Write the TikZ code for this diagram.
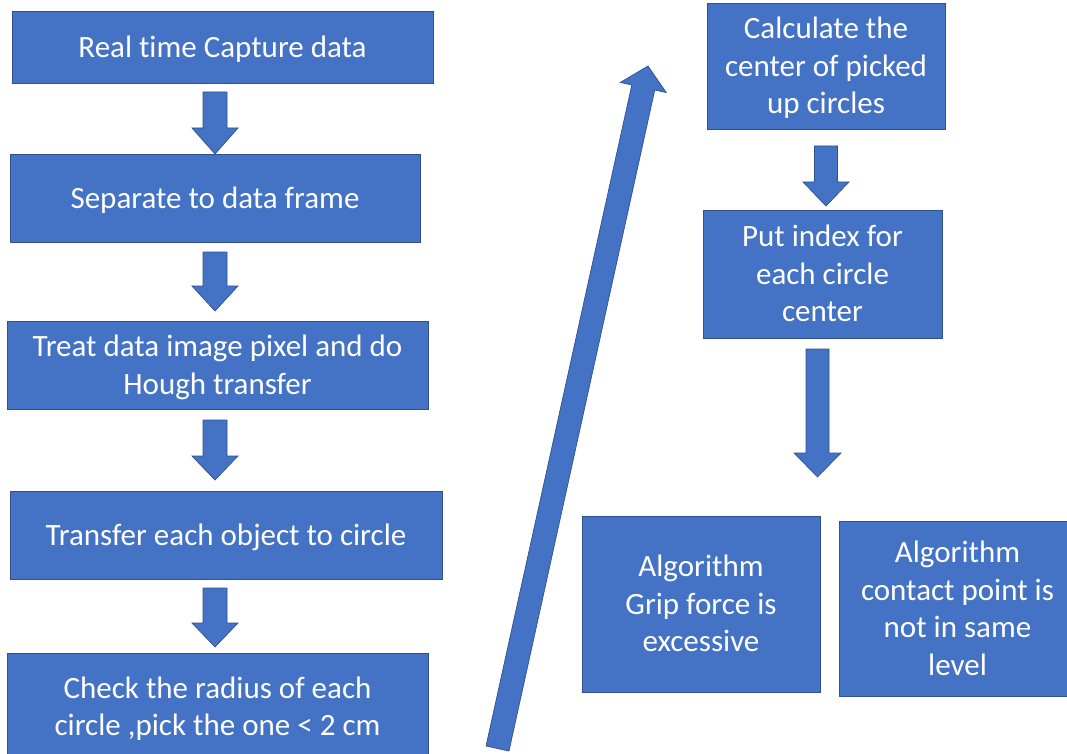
\documentclass[tikz,border=0pt]{standalone}
\usepackage{fontspec}
\setmainfont{Carlito}[Ligatures=NoCommon]
\usetikzlibrary{calc}
\definecolor{boxblue}{HTML}{4472C4}
\definecolor{boxedge}{HTML}{2F528F}
\newcommand{\toprl}{\rule{0pt}{27pt}}
\newcommand{\botrl}{\rule[-6.5pt]{0pt}{0pt}}
\tikzset{
  flowbox/.style={draw=boxedge, line width=0.9pt, fill=boxblue, text=white,
    align=center, inner sep=0pt, font=\fontsize{31}{37.5}\selectfont},
  blockarrow/.style={draw=boxedge, line width=0.7pt, fill=boxblue, line join=miter},
}
% #1 start, #2 tip, #3 half shaft width, #4 half head width, #5 head length
\newcommand{\blockarr}[5]{%
  \coordinate (ba-h) at ($(#2)!#5!(#1)$);
  \path[blockarrow] ($(#1)!#3!90:(#2)$) -- ($(ba-h)!#3!90:(#2)$) -- ($(ba-h)!#4!90:(#2)$)
    -- (#2) -- ($(ba-h)!#4!-90:(#2)$) -- ($(ba-h)!#3!-90:(#2)$) -- ($(#1)!#3!-90:(#2)$) -- cycle;
}
\begin{document}
\begin{tikzpicture}[x=1pt,y=-1pt]
\useasboundingbox (0,0) rectangle (1067,754);
\fill[white] (0,0) rectangle (1067,754);
\begin{scope}
\clip (0,0) rectangle (1067,754);
% left column
\node[flowbox, minimum width=421pt, minimum height=72pt] (box1) at (222.5,47) {\toprl Real time Capture data\botrl};
\node[flowbox, minimum width=410pt, minimum height=88pt] (box2) at (215,198) {\toprl Separate to data frame\botrl};
\node[flowbox, minimum width=421pt, minimum height=88pt] (box3) at (217.5,365) {\toprl Treat data image pixel and do\\Hough transfer\botrl};
\node[flowbox, minimum width=432pt, minimum height=88pt] (box4) at (226,535) {\toprl Transfer each object to circle\botrl};
\node[flowbox, minimum width=421pt, minimum height=107pt] (box5) at (217.5,706.5) {\toprl Check the radius of each\\circle ,pick the one < 2 cm\botrl};
% right column
\node[flowbox, minimum width=238pt, minimum height=126pt] (boxA) at (826,66) {\toprl Calculate the\\center of picked\\up circles\botrl};
\node[flowbox, minimum width=239pt, minimum height=128pt] (boxB) at (822.5,274) {\toprl Put index for\\each circle\\center\botrl};
\node[flowbox, minimum width=238pt, minimum height=176pt] (boxC) at (701,604) {\toprl Algorithm\\Grip force is\\excessive\botrl};
\node[flowbox, minimum width=237pt, minimum height=175pt] (boxD) at (957.5,608.5) {\toprl Algorithm\\contact point is\\not in same\\level\botrl};
% arrow end points
\coordinate (a1s) at (215,92);   \coordinate (a1e) at (215,154);
\coordinate (a2s) at (215,252);  \coordinate (a2e) at (215,311);
\coordinate (a3s) at (215,420);  \coordinate (a3e) at (215,480);
\coordinate (a4s) at (215,588);  \coordinate (a4e) at (215,647);
\coordinate (aAs) at (826,146);  \coordinate (aAe) at (826,206);
\coordinate (aBs) at (817.5,349); \coordinate (aBe) at (817.5,477);
\coordinate (dgs) at (497.5,748.5); \coordinate (dge) at (648,66);
\blockarr{a1s}{a1e}{12pt}{23pt}{26pt}
\blockarr{a2s}{a2e}{12pt}{23pt}{25pt}
\blockarr{a3s}{a3e}{12pt}{23pt}{24pt}
\blockarr{a4s}{a4e}{12pt}{23pt}{24pt}
\blockarr{aAs}{aAe}{11.5pt}{23pt}{24pt}
\blockarr{aBs}{aBe}{11.5pt}{23.5pt}{24pt}
\blockarr{dgs}{dge}{11.75pt}{23.5pt}{22pt}
\end{scope}
\end{tikzpicture}
\end{document}
